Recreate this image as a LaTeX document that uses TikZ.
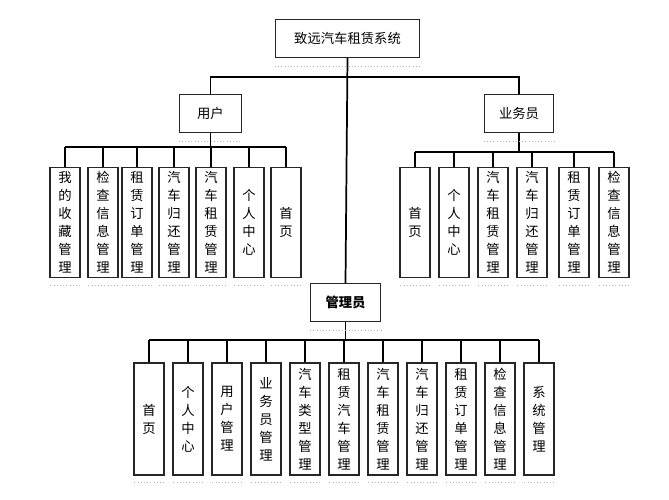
\documentclass[tikz,border=0pt]{standalone}
\usepackage{fontspec}
\newfontfamily\cjk{Noto Sans CJK SC}
\begin{document}
\begin{tikzpicture}[x=0.75pt,y=-0.75pt,
  box/.style={draw=black!85,line width=0.9pt,fill=white,inner sep=0pt,font=\cjk\fontsize{10}{13.5}\selectfont,align=center},
  vb/.style={box,minimum width=22.5pt,minimum height=83pt},
  vm/.style={box,minimum width=22.5pt,minimum height=84pt},
  ln/.style={line width=1.3pt,black}]
\useasboundingbox (0,0) rectangle (669,500);
% top
\node[box,minimum width=108pt,minimum height=28pt] (top) at (347.5,38.5) {致远汽车租赁系统};
\node[box,minimum width=47pt,minimum height=28pt] (user) at (210.5,113.5) {用户};
\node[box,minimum width=52pt,minimum height=28pt] (biz) at (519,113.5) {业务员};
\node[box,minimum width=52pt,minimum height=28pt,font=\cjk\bfseries\fontsize{10}{12}\selectfont] (mgr) at (345.5,302.5) {管理员};
\coordinate (jt) at (347.5,77);
\draw[ln] (top.south) -- (mgr.north);
\draw[ln] (user.north) |- (jt) -| (biz.north);
% user children
\foreach \n/\x/\t in {u1/65/我\\的\\收\\藏\\管\\理, u2/103/检\\查\\信\\息\\管\\理, u3/137/租\\赁\\订\\单\\管\\理, u4/174/汽\\车\\归\\还\\管\\理, u5/211/汽\\车\\租\\赁\\管\\理, u6/249/个\\人\\中\\心, u7/286/首\\页}{
  \node[vb] (\n) at (\x,222.5) {\t};
  \draw[gray!60,dotted] ([xshift=-11pt,yshift=-5pt]\n.south) -- ([xshift=11pt,yshift=-5pt]\n.south);
  \draw[ln] (\n.north) -- (\x,147);
}
\draw[ln] (u1.north |- 0,147) -- (u7.north |- 0,147);
\draw[ln] (user.south) -- (210.5,147);
% biz children
\foreach \n/\x/\t in {b1/415/首\\页, b2/454/个\\人\\中\\心, b3/493/汽\\车\\租\\赁\\管\\理, b4/532/汽\\车\\归\\还\\管\\理, b5/574/租\\赁\\订\\单\\管\\理, b6/614/检\\查\\信\\息\\管\\理}{
  \node[vb] (\n) at (\x,222.5) {\t};
  \draw[gray!60,dotted] ([xshift=-11pt,yshift=-5pt]\n.south) -- ([xshift=11pt,yshift=-5pt]\n.south);
  \draw[ln] (\n.north) -- (\x,152);
}
\draw[ln] (b1.north |- 0,152) -- (b6.north |- 0,152);
\draw[ln] (biz.south) -- (519,152);
% manager children
\foreach \n/\x/\t in {m1/149/首\\页, m2/188/个\\人\\中\\心, m3/227/用\\户\\管\\理, m4/266/业\\务\\员\\管\\理, m5/305/汽\\车\\类\\型\\管\\理, m6/344/租\\赁\\汽\\车\\管\\理, m7/383/汽\\车\\租\\赁\\管\\理, m8/422/汽\\车\\归\\还\\管\\理, m9/461/租\\赁\\订\\单\\管\\理, m10/500/检\\查\\信\\息\\管\\理, m11/539/系\\统\\管\\理}{
  \node[vm] (\n) at (\x,419) {\t};
  \draw[gray!60,dotted] ([xshift=-11pt,yshift=-5pt]\n.south) -- ([xshift=11pt,yshift=-5pt]\n.south);
  \draw[ln] (\n.north) -- (\x,340);
}
\draw[ln] (m1.north |- 0,340) -- (m11.north |- 0,340);
\draw[ln] (mgr.south) -- (345.5,340);
% dotted shadows under headers
\foreach \n in {top,user,biz,mgr}{
  \draw[gray!60,dotted] ([yshift=-6pt]\n.south west) -- ([yshift=-6pt]\n.south east);
}
\end{tikzpicture}
\end{document}
